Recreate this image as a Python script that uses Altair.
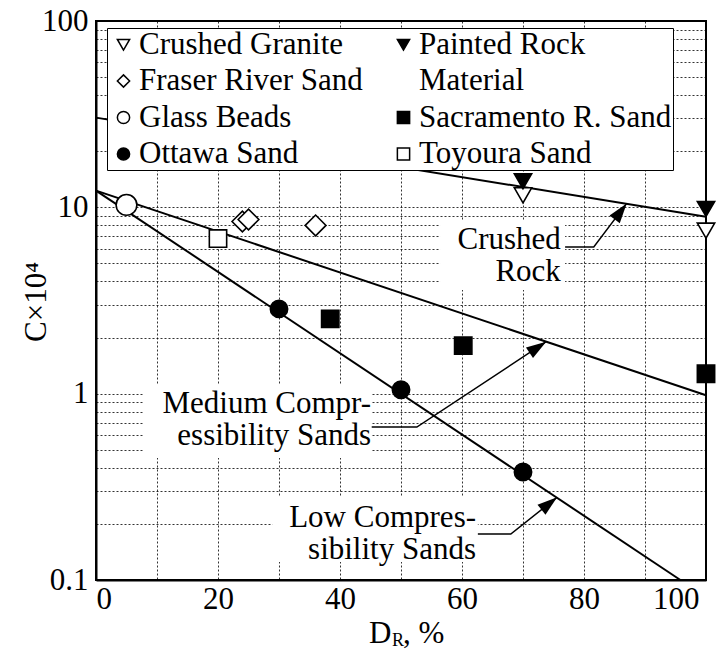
import math
import altair as alt
import pandas as pd

FONT = "Liberation Serif"

# ---------------- data ----------------
series_names = ["Crushed Granite", "Painted Rock Material", "Fraser River Sand",
                "Glass Beads", "Ottawa Sand", "Sacramento R. Sand", "Toyoura Sand"]
granite_dr = [70, 100]
granite_c = [11.6, 7.5]
painted_dr = [70, 100]
painted_c = [13.8, 9.8]
fraser_dr = [24, 25, 36]
fraser_c = [8.4, 8.6, 8.0]
glass_dr = [5]
glass_c = [10.3]
ottawa_dr = [30, 50, 70]
ottawa_c = [2.85, 1.05, 0.38]
sacramento_dr = [38.4, 60.2, 100]
sacramento_c = [2.52, 1.81, 1.28]
toyoura_dr = [20]
toyoura_c = [6.8]

trend_names = ["Crushed Rock", "Medium Compressibility Sands", "Low Compressibility Sands"]
trend_dr = [[0, 100], [0, 100], [0, 95.8]]
trend_c = [[30.3, 8.9], [12.3, 0.98], [12.3, 0.1]]

label_text = ["Crushed\nRock", "Medium Compr-\nessibility Sands", "Low Compres-\nsibility Sands"]
label_dr = [76.2, 45.1, 62.3]
label_c = [5.97, 0.787, 0.192]
box_dr = [[56.4, 76.9], [7.7, 45.2], [28.9, 62.6]]
box_c = [[8.5, 3.6], [1.127, 0.452], [0.279, 0.125]]
leader_dr = [[76.9, 81.6, 87.0], [45.2, 52.6, 73.8], [62.6, 68.0, 75.6]]
leader_c = [[6.12, 6.12, 10.5], [0.662, 0.662, 1.90], [0.1766, 0.1766, 0.278]]

x_ticks = [0, 10, 20, 30, 40, 50, 60, 70, 80, 90, 100]
y_ticks = [0.1, 0.2, 0.3, 0.4, 0.5, 0.6, 0.7, 0.8, 0.9,
           1, 2, 3, 4, 5, 6, 7, 8, 9,
           10, 20, 30, 40, 50, 60, 70, 80, 90, 100]

# ---------------- tables ----------------
W, H = 610, 559
series_dr = [granite_dr, painted_dr, fraser_dr, glass_dr, ottawa_dr, sacramento_dr, toyoura_dr]
series_c = [granite_c, painted_c, fraser_c, glass_c, ottawa_c, sacramento_c, toyoura_c]
pts = pd.DataFrame([{"series": n, "dr": x, "c": y}
                    for n, xs_, ys_ in zip(series_names, series_dr, series_c)
                    for x, y in zip(xs_, ys_)])

trend = pd.DataFrame([{"name": n, "dr": x, "c": y}
                      for n, xs_, ys_ in zip(trend_names, trend_dr, trend_c)
                      for x, y in zip(xs_, ys_)])

labels = pd.DataFrame({"text": label_text, "dr": label_dr, "c": label_c})
boxes = pd.DataFrame({"x1": [b[0] for b in box_dr], "x2": [b[1] for b in box_dr],
                      "y1": [b[0] for b in box_c], "y2": [b[1] for b in box_c]})
leaders = pd.DataFrame([{"id": i, "k": k, "dr": x, "c": y}
                        for i, (xs_, ys_) in enumerate(zip(leader_dr, leader_c))
                        for k, (x, y) in enumerate(zip(xs_, ys_))])


def px(x):
    return W * x / 100.0


def py(c):
    return H * (2 - math.log10(c)) / 3.0


heads = []
for xs_, ys_ in zip(leader_dr, leader_c):
    dx = px(xs_[-1]) - px(xs_[-2])
    dy = py(ys_[-1]) - py(ys_[-2])
    heads.append({"dr": xs_[-1], "c": ys_[-1], "ang": math.degrees(math.atan2(dx, -dy)) % 360})
heads = pd.DataFrame(heads)

# ---------------- scales / axes ----------------
xscale = alt.Scale(domain=[0, 100], nice=False, zero=False)
yscale = alt.Scale(type="log", domain=[0.1, 100], nice=False)

xaxis = alt.Axis(values=x_ticks, labelExpr="datum.value % 20 == 0 ? datum.label : ''",
                 title=None, grid=True, gridDash=[2, 2], gridColor="black", gridWidth=1,
                 gridOpacity=0.8, ticks=False, domainColor="black", domainWidth=2,
                 labelFont=FONT, labelFontSize=31, labelColor="black", labelPadding=4,
                 labelOffset={"condition": {"test": "datum.value == 100", "value": -7}, "value": 0})
yaxis = alt.Axis(values=y_ticks, format="~g",
                 labelExpr="(datum.value == 0.1 || datum.value == 1 || datum.value == 10 || datum.value == 100) ? datum.label : ''",
                 title=None, grid=True, gridDash=[2, 2], gridColor="black", gridWidth=1,
                 gridOpacity=0.8, ticks=False, domainColor="black", domainWidth=2,
                 labelFont=FONT, labelFontSize=31, labelColor="black", labelPadding=8)


def X(field="dr"):
    return alt.X(f"{field}:Q", scale=xscale, axis=xaxis)


def Y(field="c"):
    return alt.Y(f"{field}:Q", scale=yscale, axis=yaxis)


# ---------------- legend (column-major order, 2 columns x 4 rows) ----------------
dom = ["Crushed Granite", "Fraser River Sand", "Glass Beads", "Ottawa Sand",
       "Painted Rock Material", "_cont", "Sacramento R. Sand", "Toyoura Sand"]
shapes = ["triangle-down", "diamond", "circle", "circle",
          "triangle-down", "circle", "square", "square"]
fills = ["white", "white", "white", "black",
         "black", "transparent", "black", "white"]
strokes = ["black", "black", "black", "black",
           "black", "transparent", "black", "black"]

legend = alt.Legend(orient="none", legendX=11, legendY=7, columns=2, title=None,
                    fillColor="white", strokeColor="black", padding=1,
                    labelFont=FONT, labelFontSize=31, labelColor="black", labelLimit=600,
                    symbolSize=150, symbolStrokeWidth=1.5, rowPadding=4.5,
                    columnPadding=25, labelOffset=0, symbolOffset=0,
                    labelExpr="datum.value == 'Painted Rock Material' ? 'Painted Rock' : "
                              "(datum.value == '_cont' ? '\u00a0\u00a0Material' : datum.label)")

enc_common = dict(
    shape=alt.Shape("series:N", scale=alt.Scale(domain=dom, range=shapes), legend=legend),
    fill=alt.Fill("series:N", scale=alt.Scale(domain=dom, range=fills), legend=legend),
    stroke=alt.Stroke("series:N", scale=alt.Scale(domain=dom, range=strokes), legend=legend),
)

# ---------------- layers ----------------
box_layer = alt.Chart(boxes).mark_rect(color="white").encode(
    x=X("x1"), x2="x2:Q", y=Y("y1"), y2="y2:Q")

trend_layer = alt.Chart(trend).mark_line(color="black", strokeWidth=2).encode(
    x=X(), y=Y(), detail="name:N")

leader_layer = alt.Chart(leaders).mark_line(color="black", strokeWidth=1.5).encode(
    x=X(), y=Y(), detail="id:N", order="k:Q")

ARROW = "M0,0L0.32,1L-0.32,1Z"
head_layer = alt.Chart(heads).mark_point(shape=ARROW, filled=True, color="black",
                                         size=1600, strokeWidth=0, opacity=1).encode(
    x=X(), y=Y(), angle=alt.Angle("ang:Q", scale=None))

small_pts = alt.Chart(pts).transform_filter(
    "datum.series != 'Fraser River Sand' && datum.series != 'Glass Beads'"
).mark_point(filled=True, size=300, strokeWidth=1.6, opacity=1).encode(
    x=X(), y=Y(), **enc_common)

big_pts = alt.Chart(pts).transform_filter(
    "datum.series == 'Fraser River Sand' || datum.series == 'Glass Beads'"
).mark_point(filled=True, size=430, strokeWidth=1.6, opacity=1).encode(
    x=X(), y=Y(), **enc_common)

text_layer = alt.Chart(labels).mark_text(font=FONT, fontSize=31, align="right",
                                         baseline="alphabetic", lineBreak="\n",
                                         lineHeight=32, color="black").encode(
    x=X(), y=Y(), text="text:N")

# axis titles (with subscript / superscript)
title_df = pd.DataFrame({"t": ["D", "R", ", %", "C\u00d710\u2074"]})
t_D = alt.Chart(title_df).transform_filter("datum.t == 'D'").mark_text(
    font=FONT, fontSize=31, align="left", baseline="alphabetic", color="black").encode(
    x=alt.value(273), y=alt.value(622), text="t:N")
t_R = alt.Chart(title_df).transform_filter("datum.t == 'R'").mark_text(
    font=FONT, fontSize=18, align="left", baseline="alphabetic", color="black").encode(
    x=alt.value(296), y=alt.value(625), text="t:N")
t_pct = alt.Chart(title_df).transform_filter("datum.t == ', %'").mark_text(
    font=FONT, fontSize=31, align="left", baseline="alphabetic", color="black").encode(
    x=alt.value(307), y=alt.value(622), text="t:N")
t_C = alt.Chart(title_df).transform_filter("datum.t == 'C\u00d710\u2074'").mark_text(
    font=FONT, fontSize=31, align="center", baseline="middle", angle=270, color="black").encode(
    x=alt.value(-59), y=alt.value(281), text="t:N")

chart = alt.layer(
    box_layer, trend_layer, leader_layer, head_layer, small_pts, big_pts, text_layer,
    t_D, t_R, t_pct, t_C
).properties(
    width=W, height=H, autosize="none",
    padding={"left": 96, "top": 21, "right": 22, "bottom": 73},
    background="white"
).configure_view(stroke="black", strokeWidth=2)

chart.save("out.html", embed_options={"renderer": "svg", "actions": False})
